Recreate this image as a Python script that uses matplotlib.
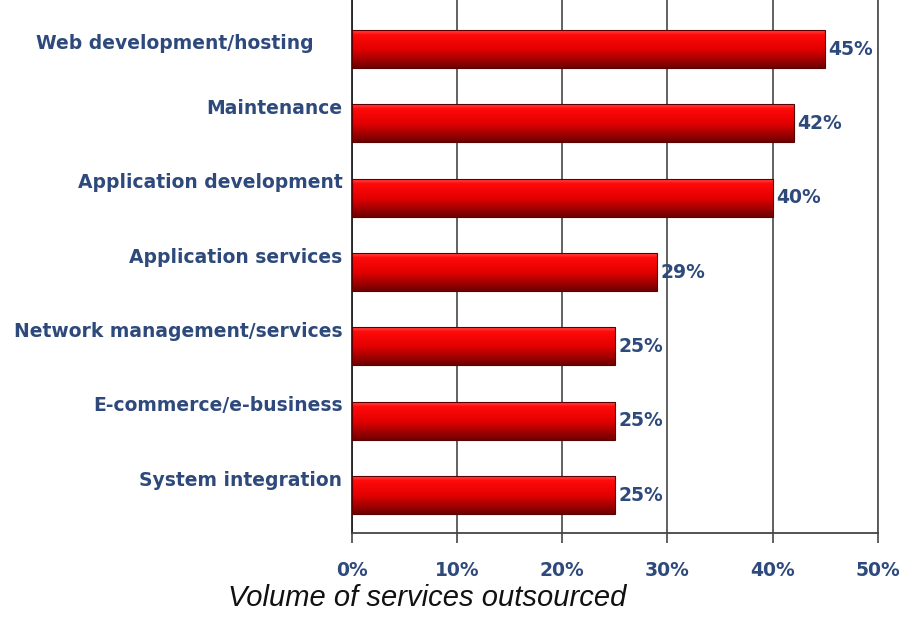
import numpy as np
import matplotlib.pyplot as plt
from matplotlib.colors import LinearSegmentedColormap

# Data
categories = [
    "Web development/hosting",
    "Maintenance",
    "Application development",
    "Application services",
    "Network management/services",
    "E-commerce/e-business",
    "System integration",
]
values = [45, 42, 40, 29, 25, 25, 25]
xticks = [0, 10, 20, 30, 40, 50]
xtick_labels = ["0%", "10%", "20%", "30%", "40%", "50%"]

label_color = "#2e4a7c"
bold_font = ['DejaVu Sans']
plt.rcParams['font.family'] = ['Liberation Sans', 'DejaVu Sans']

fig = plt.figure(figsize=(9.14, 6.29), dpi=100)
ax = fig.add_axes([0.385, 0.1526, 0.5755, 0.8474])

y = np.arange(len(categories))
bars = ax.barh(y, values, height=0.51, color='none', edgecolor='#5a0000',
               linewidth=0.8, zorder=3)

# vertical red gradient inside every bar
cmap = LinearSegmentedColormap.from_list(
    'redbar', [(0.0, '#ff4a4a'), (0.12, '#ff0a0a'), (0.5, '#e40000'),
               (1.0, '#6e0000')])
grad = np.linspace(0, 1, 256).reshape(-1, 1)
for bar in bars:
    x0, y0 = bar.get_x(), bar.get_y()
    w, h = bar.get_width(), bar.get_height()
    im = ax.imshow(grad, cmap=cmap, aspect='auto', zorder=2,
                   extent=[x0, x0 + w, y0 + h, y0], origin='upper')
    im.set_clip_path(bar)

ax.set_xlim(0, 50)
ax.set_ylim(6.51, -0.66)

# category labels sit a little above each bar's centre
for yi, cat in zip(y, categories):
    # the first label stops short of the axis in the original
    if yi == 0:
        xpos, dy = -3.6, -0.08
    else:
        xpos, dy = -0.9, -0.2
    ax.text(xpos, yi + dy, cat, ha='right', va='center', fontsize=13.5,
            fontweight='bold', color=label_color, family=bold_font)

# value labels
for yi, v in zip(y, values):
    ax.text(v + 0.3, yi, f"{v}%", ha='left', va='center', fontsize=13.5,
            fontweight='bold', color=label_color, family=bold_font, zorder=4)

ax.set_yticks([])
ax.set_xticks(xticks)
ax.set_xticklabels(xtick_labels, fontsize=13.5, fontweight='bold',
                   color=label_color, family=bold_font)
ax.tick_params(axis='x', direction='out', length=7, width=1.2,
               color='#444444', pad=13)
ax.xaxis.grid(True, color='#555555', linewidth=1.3, zorder=1)

ax.spines['top'].set_visible(False)
ax.spines['right'].set_color('#555555')
ax.spines['right'].set_linewidth(1.3)
ax.spines['left'].set_color('#222222')
ax.spines['left'].set_linewidth(1.3)
ax.spines['bottom'].set_color('#444444')
ax.spines['bottom'].set_linewidth(1.3)

fig.text(0.467, 0.049, "Volume of services outsourced", ha='center',
         va='center', fontsize=21, style='italic', color='#111111')

fig.savefig('out.png', dpi=100)
